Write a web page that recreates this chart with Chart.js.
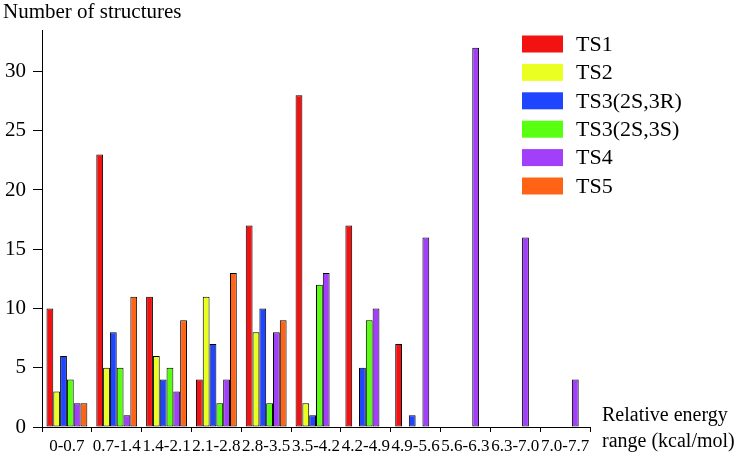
<!DOCTYPE html>
<html lang="en">
<head>
    <meta charset="UTF-8">
    <title>Number of structures by relative energy</title>
    <script src="https://cdn.jsdelivr.net/npm/chart.js@4.4.0/dist/chart.umd.min.js"></script>
    <style>
        body { margin: 0; background: #fff; }
        canvas { display: block; }
    </style>
</head>
<body>
    <canvas id="energyChart" width="744" height="455"></canvas>
    <script>
        const categories = ['0-0.7', '0.7-1.4', '1.4-2.1', '2.1-2.8', '2.8-3.5', '3.5-4.2',
                            '4.2-4.9', '4.9-5.6', '5.6-6.3', '6.3-7.0', '7.0-7.7'];
        const seriesNames = ['TS1', 'TS2', 'TS3(2S,3R)', 'TS3(2S,3S)', 'TS4', 'TS5'];
        const ts1 = [10, 23, 11, 4, 17, 28, 17, 7, 0, 0, 0];
        const ts2 = [3, 5, 6, 11, 8, 2, 0, 0, 0, 0, 0];
        const ts3R = [6, 8, 4, 7, 10, 1, 5, 1, 0, 0, 0];
        const ts3S = [4, 5, 5, 2, 2, 12, 9, 0, 0, 0, 0];
        const ts4 = [2, 1, 3, 4, 8, 13, 10, 16, 32, 16, 4];
        const ts5 = [2, 11, 9, 13, 9, 0, 0, 0, 0, 0, 0];
        const yTicks = [0, 5, 10, 15, 20, 25, 30];

        const colors = ['#f21212', '#eaff22', '#1f45ff', '#58ff10', '#a23ffa', '#ff6416'];
        const seriesData = [ts1, ts2, ts3R, ts3S, ts4, ts5];
        const serif = '"Liberation Serif", "Times New Roman", serif';

        // legend and axis titles drawn by hand, they sit inside / beside the plot
        const annotations = {
            id: 'annotations',
            afterDraw(chart) {
                const ctx = chart.ctx;
                ctx.save();
                ctx.fillStyle = '#000';
                ctx.textBaseline = 'alphabetic';
                ctx.textAlign = 'left';
                ctx.font = '21px ' + serif;
                ctx.fillText('Number of structures', 3, 18);
                ctx.font = '20px ' + serif;
                ctx.fillText('Relative energy', 602, 421);
                ctx.fillText('range (kcal/mol)', 602, 447);

                ctx.font = '22px ' + serif;
                ctx.textBaseline = 'middle';
                chart.data.datasets.forEach((ds, i) => {
                    const y = 44 + i * 28.4;
                    ctx.fillStyle = ds.backgroundColor;
                    ctx.fillRect(522, y - 8.5, 41, 17);
                    ctx.fillStyle = '#000';
                    ctx.fillText(ds.label, 576, y + 1);
                });
                ctx.restore();
            }
        };

        new Chart(document.getElementById('energyChart'), {
            type: 'bar',
            data: {
                labels: categories,
                datasets: seriesNames.map((name, i) => ({
                    label: name,
                    data: seriesData[i],
                    backgroundColor: colors[i],
                    borderColor: '#000',
                    borderWidth: 1,
                    borderSkipped: false,
                    categoryPercentage: 0.82,
                    barPercentage: 1.0
                }))
            },
            options: {
                responsive: false,
                animation: false,
                layout: { padding: { left: 0, right: 154, top: 30, bottom: 0 } },
                plugins: {
                    legend: { display: false },
                    tooltip: { enabled: false }
                },
                scales: {
                    x: {
                        afterFit: s => { s.height = 28; },
                        border: { color: '#000', width: 1 },
                        grid: { drawOnChartArea: false, color: '#000', tickLength: 5, offset: true },
                        ticks: {
                            color: '#000',
                            font: { family: serif, size: 17 },
                            padding: 4,
                            maxRotation: 0,
                            autoSkip: false
                        }
                    },
                    y: {
                        min: 0,
                        max: 33.5,
                        afterFit: s => { s.width = 42; },
                        afterBuildTicks: s => {
                            s.ticks = yTicks.map(v => ({ value: v }));
                        },
                        border: { color: '#000', width: 1 },
                        grid: { drawOnChartArea: false, color: '#000', tickLength: 9 },
                        ticks: {
                            color: '#000',
                            font: { family: serif, size: 21 },
                            padding: 7
                        }
                    }
                }
            },
            plugins: [annotations]
        });
    </script>
</body>
</html>
